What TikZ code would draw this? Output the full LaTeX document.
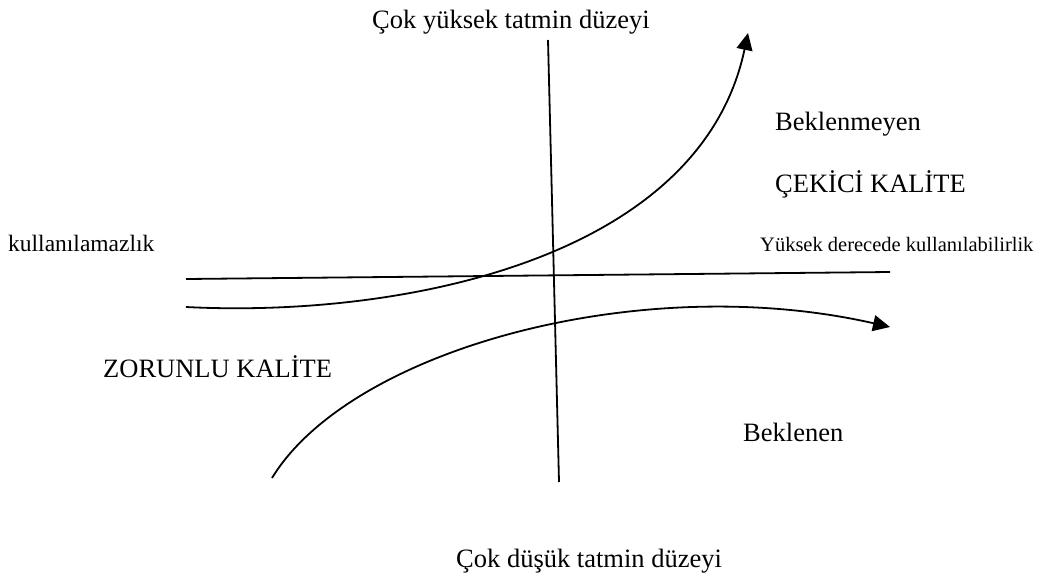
\documentclass[tikz,border=0pt]{standalone}
\usepackage{fontspec}
\setmainfont{Liberation Serif}
\usetikzlibrary{arrows.meta}
\begin{document}
\begin{tikzpicture}[x=1pt,y=-1pt,
  axis/.style={line width=1.8pt},
  curve/.style={line width=1.8pt,-{Triangle[length=17pt,width=16pt]}},
  big/.style={inner sep=0pt,anchor=base west,font=\fontsize{26.5}{30}\selectfont},
  small/.style={inner sep=0pt,anchor=base west,font=\fontsize{20.5}{24}\selectfont}]
\useasboundingbox (0,0) rectangle (1046,581);
% axes
\coordinate (vtop) at (548,40);
\coordinate (vbot) at (559,482);
\coordinate (hl) at (186,279);
\coordinate (hr) at (890,272);
\draw[axis] (vtop) -- (vbot);
\draw[axis] (hl) -- (hr);
% curves
\coordinate (us) at (186,307);
\coordinate (ue) at (748,33);
\coordinate (ls) at (272,478);
\coordinate (le) at (890,327);
\draw[curve] (us) .. controls (400,318) and (700,260) .. (ue);
\draw[curve] (ls) .. controls (350,350) and (640,270) .. (le);
% labels
\node[big] (top) at (372,28) {Çok yüksek tatmin düzeyi};
\node[big] (bm) at (775,130) {Beklenmeyen};
\node[big] (ck) at (775,192) {ÇEKİCİ KALİTE};
\node[small,font=\fontsize{23.5}{27}\selectfont] (kl) at (8,251) {kullanılamazlık};
\node[small] (yd) at (760,251) {Yüksek derecede kullanılabilirlik};
\node[big] (zk) at (103,377) {ZORUNLU KALİTE};
\node[big] (bl) at (743,441) {Beklenen};
\node[big] (bot) at (456,567) {Çok düşük tatmin düzeyi};
\end{tikzpicture}
\end{document}
